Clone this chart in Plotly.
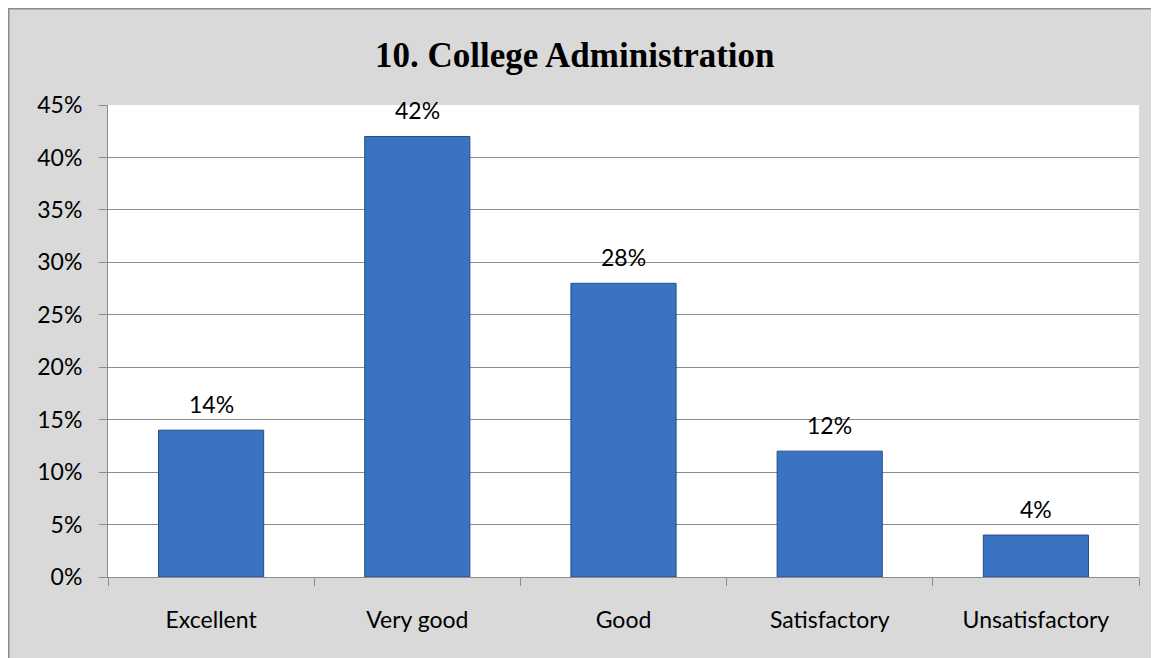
import plotly.graph_objects as go

categories = ['Excellent', 'Very good', 'Good', 'Satisfactory', 'Unsatisfactory']
shares = [0.14, 0.42, 0.28, 0.12, 0.04]
labels = ['14%', '42%', '28%', '12%', '4%']

# page body has an 8px margin, the chart runs off the right and bottom edges
W, H = 1159, 658
ml, mr, mt, mb = 100, 28, 97, 89
pw, ph = W - ml - mr, H - mt - mb

fig = go.Figure(go.Bar(
	x=categories, y=shares,
	width=0.51,
	marker=dict(color='#3a73c1', line=dict(color='#234e8b', width=1)),
	hoverinfo='skip',
))

for c, v, t in zip(categories, shares, labels):
	fig.add_annotation(x=c, y=v, text=t, showarrow=False, yanchor='bottom', yshift=10,
		font=dict(family='Lato', size=23, color='black'))

# chart border (left and top edges are the visible ones)
fig.add_shape(type='rect', xref='paper', yref='paper', layer='above',
	x0=-(ml - 0.75) / pw, x1=1 + (mr - 0.75) / pw,
	y0=-(mb - 0.75) / ph, y1=1 + (mt - 0.75) / ph,
	line=dict(color='#8c8c8c', width=1.5))

fig.update_layout(
	width=W, height=H,
	margin=dict(l=ml, r=mr, t=mt, b=mb),
	paper_bgcolor='#d9d9d9', plot_bgcolor='white',
	font=dict(family='Lato', size=23, color='black'),
	showlegend=False,
	title=dict(text='<b>10. College Administration</b>', x=0.489, xanchor='center',
		xref='container', y=1 - 47 / H, yanchor='middle',
		font=dict(family='Liberation Serif', size=35, color='black')),
)
fig.update_xaxes(showline=True, linecolor='#8c8c8c', linewidth=1,
	tickson='boundaries', ticks='outside', ticklen=8, tickcolor='#8c8c8c',
	showgrid=False, ticklabelstandoff=22, automargin=False, tickfont=dict(size=23))
fig.update_yaxes(range=[0, 0.45], dtick=0.05, tickformat='.0%',
	showline=True, linecolor='#8c8c8c', linewidth=1,
	ticks='outside', ticklen=8, tickcolor='#8c8c8c',
	showgrid=True, gridcolor='#8c8c8c', gridwidth=1, zeroline=False,
	ticklabelstandoff=12, automargin=False, tickfont=dict(size=23))

fig.write_html('out.html')
